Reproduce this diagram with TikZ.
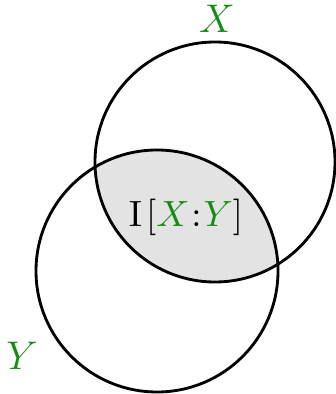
\documentclass[tikz,border=0pt]{standalone}
\usepackage{amsmath}
\usepackage{xcolor}
\usepackage{tikz}
\usetikzlibrary{positioning}
\definecolor{setgreen}{RGB}{20,140,20}

\begin{document}
\begin{tikzpicture}[
    x=0.3pt, y=0.3pt,
    set/.style={draw, line width=0.85pt},
    lens/.style={fill=gray!22},
    lbl/.style={text=setgreen, inner sep=1pt, font=\large}
  ]
  \useasboundingbox (0,0) rectangle (336,394);

  \coordinate (cX) at (215,232);
  \coordinate (cY) at (157,123);

  % shaded overlap
  \begin{scope}
    \clip (cX) circle[radius=120];
    \fill[lens] (cY) circle[radius=121];
  \end{scope}

  \draw[set] (cX) circle[radius=120];
  \draw[set] (cY) circle[radius=121];

  \node[lbl] (labX) at (217,375) {$X$};
  \node[lbl] (labY) at (22,38)   {$Y$};
  \node[font=\fontsize{11}{13}\selectfont] (info) at (186,177)
    {$\mathrm{I}\mkern2mu[\textcolor{setgreen}{X}\mkern1mu{:}\mkern1mu\textcolor{setgreen}{Y}]$};
\end{tikzpicture}
\end{document}
